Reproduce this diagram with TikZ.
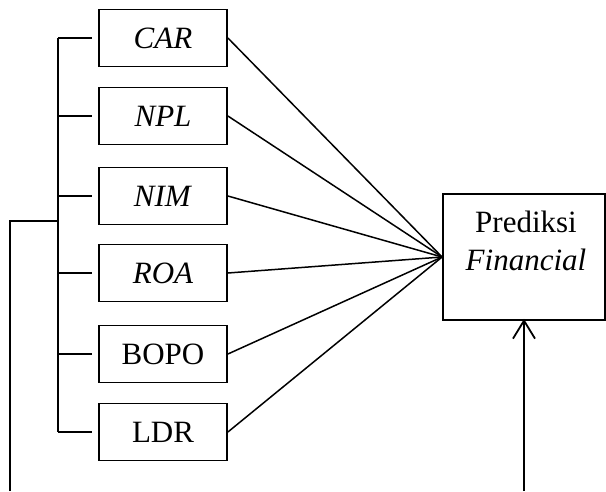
\documentclass[tikz,border=0pt]{standalone}
\usepackage{fontspec}
\setmainfont{Liberation Serif}
\usetikzlibrary{arrows.meta}
\begin{document}
\begin{tikzpicture}[x=1pt,y=-1pt,line width=1.8pt,
  varbox/.style={draw,minimum width=128pt,minimum height=57pt,inner sep=0pt,
    font=\fontsize{31}{36}\selectfont},
  link/.style={line width=1.5pt}]
  \useasboundingbox (0,0) rectangle (606,491);

  % independent variables
  \node[varbox] (car)  at (163,38)  {\textit{CAR}};
  \node[varbox] (npl)  at (163,116) {\textit{NPL}};
  \node[varbox] (nim)  at (163,196) {\textit{NIM}};
  \node[varbox] (roa)  at (163,273) {\textit{ROA}};
  \node[varbox] (bopo) at (163,354) {BOPO};
  \node[varbox] (ldr)  at (163,432) {LDR};

  % dependent variable
  \node[draw,minimum width=162pt,minimum height=126pt,inner sep=0pt] (pred) at (524,257) {};
  \node[font=\fontsize{31}{38}\selectfont,align=center,inner sep=0pt] (predtext) at (526,241)
    {Prediksi\\\textit{Financial}};

  % lines into the prediction box
  \foreach \v in {car,npl,nim,roa,bopo,ldr}
    \draw[link] (\v.east) -- (pred.west);

  % bracket grouping the variables
  \draw (58,0 |- car.west) -- (58,0 |- ldr.west);
  \foreach \v in {car,npl,nim,roa,bopo,ldr}
    \draw (58,0 |- \v.west) -- ([xshift=-6pt]\v.west);

  % outer feedback path
  \coordinate (outstart) at (10,491);
  \coordinate (outcorner) at (10,221);
  \coordinate (brackjoin) at (58,221);
  \draw (outstart) -- (outcorner) -- (brackjoin);

  % arrow into the prediction box
  \coordinate (arrowfoot) at (pred.south |- 0,491);
  \draw[-{Straight Barb[length=18pt,width=22pt,line width=1.8pt]}] (arrowfoot) -- ([yshift=2pt]pred.south);
\end{tikzpicture}
\end{document}
